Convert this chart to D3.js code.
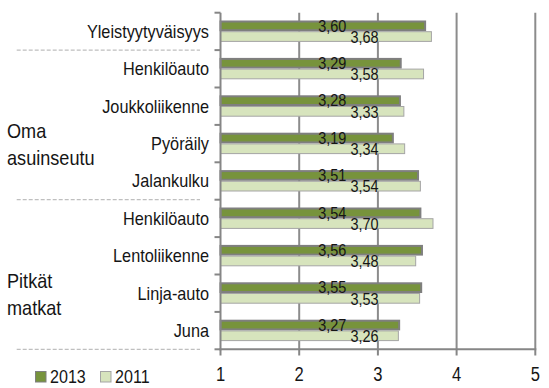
<!DOCTYPE html>
<html>
<head>
<meta charset="utf-8">
<script src="https://cdn.jsdelivr.net/npm/d3@7"></script>
<style>
  body { margin: 0; background: #fff; }
  text { font-family: "Liberation Sans", Arial, sans-serif; fill: #151515; }
</style>
</head>
<body>
<div id="chart"></div>
<script>
const width = 549
const height = 388

const categories = ["Yleistyytyväisyys", "Henkilöauto", "Joukkoliikenne", "Pyöräily", "Jalankulku",
                    "Henkilöauto", "Lentoliikenne", "Linja-auto", "Juna"]
const values2013 = [3.60, 3.29, 3.28, 3.19, 3.51, 3.54, 3.56, 3.55, 3.27]
const values2011 = [3.68, 3.58, 3.33, 3.34, 3.54, 3.70, 3.48, 3.53, 3.26]
const seriesNames = ["2013", "2011"]
const xTicks = [1, 2, 3, 4, 5]
const groupLabels = [["Oma", "asuinseutu"], ["Pitkät", "matkat"]]
const groupRows = [[1, 4], [5, 8]]
const separatorsAfter = [0, 4, 8]

const colors = {"2013": "#77933c", "2011": "#d7e4bd"}
const strokes = {"2013": "#7f7f7f", "2011": "#a5a5a5"}

const svg = d3.select("#chart").append("svg").attr("width", width).attr("height", height)

const x = d3.scaleLinear().domain([1, 5]).range([220.5, 535.3])
const y = d3.scaleBand().domain(d3.range(categories.length)).range([12.7, 349.3])
const ySub = d3.scaleBand().domain(seriesNames).range([7.8, 29.2])

// helper: text squeezed horizontally like the original
function sText(g, tx, ty, str, size, sx, anchor) {
    return g.append("text")
        .attr("transform", `translate(${tx},${ty}) scale(${sx},1)`)
        .attr("font-size", size)
        .attr("text-anchor", anchor || "start")
        .text(str)
}

// gridlines
svg.append("g").selectAll("line").data(xTicks.slice(1)).join("line")
    .attr("x1", d => x(d)).attr("x2", d => x(d))
    .attr("y1", 12.7).attr("y2", 349.3)
    .attr("stroke", "#8c8c8c").attr("stroke-width", 2)

// bars
const rows = svg.append("g").selectAll("g").data(categories).join("g")
    .attr("transform", (d, i) => `translate(0,${y(i)})`)

seriesNames.forEach(s => {
    const vals = s === "2013" ? values2013 : values2011
    rows.append("rect")
        .attr("x", x(1))
        .attr("y", ySub(s) + (s === "2013" ? 1 : 0.5))
        .attr("width", (d, i) => x(vals[i]) - x(1))
        .attr("height", ySub.bandwidth() - (s === "2013" ? 2 : 1))
        .attr("fill", colors[s])
        .attr("stroke", strokes[s])
        .attr("stroke-width", s === "2013" ? 2 : 1)
})

// value labels
rows.each(function(d, i) {
    const g = d3.select(this)
    sText(g, x(2.42), ySub("2013") + ySub.bandwidth() / 2 + 5.8,
        values2013[i].toFixed(2).replace(".", ","), 17, 0.85, "middle")
    sText(g, x(2.83), ySub("2011") + ySub.bandwidth() / 2 + 6.2,
        values2011[i].toFixed(2).replace(".", ","), 17, 0.85, "middle")
})

// axes
svg.append("line").attr("x1", x(1)).attr("x2", x(1)).attr("y1", 12.7).attr("y2", 350.3)
    .attr("stroke", "#868686").attr("stroke-width", 2)
svg.append("line").attr("x1", x(1) - 1).attr("x2", x(5) + 1).attr("y1", 349.3).attr("y2", 349.3)
    .attr("stroke", "#868686").attr("stroke-width", 2)

svg.append("g").selectAll("line").data(d3.range(categories.length + 1)).join("line")
    .attr("x1", x(1) - 6).attr("x2", x(1))
    .attr("y1", i => 12.7 + i * y.step()).attr("y2", i => 12.7 + i * y.step())
    .attr("stroke", "#868686").attr("stroke-width", 2)

svg.append("g").selectAll("line").data(xTicks).join("line")
    .attr("x1", d => x(d)).attr("x2", d => x(d))
    .attr("y1", 349.3).attr("y2", 355.5)
    .attr("stroke", "#868686").attr("stroke-width", 2)

const tickG = svg.append("g")
xTicks.forEach(t => sText(tickG, x(t), 381, t, 19.5, 0.85, "middle"))

// category labels
const catG = svg.append("g")
categories.forEach((c, i) => sText(catG, 209, y(i) + y.bandwidth() / 2 + 6.3, c, 18.3, 0.89, "end"))

// separators
svg.append("g").selectAll("line").data(separatorsAfter).join("line")
    .attr("x1", 16.7).attr("x2", 200)
    .attr("y1", i => y(i) + y.step()).attr("y2", i => y(i) + y.step())
    .attr("stroke", "#bfbfbf").attr("stroke-width", 1.2).attr("stroke-dasharray", "4,2")

// group labels
const grpG = svg.append("g")
groupLabels.forEach((lines, k) => {
    const [a, b] = groupRows[k]
    const mid = (y(a) + y(b) + y.step()) / 2
    lines.forEach((l, j) => sText(grpG, 7, mid + 13.5 + j * 27, l, 19.5, 0.93, "start"))
})

// legend
const leg = svg.append("g")
seriesNames.forEach((s, i) => {
    const lx = 35 + i * 65
    leg.append("rect").attr("x", lx + 0.5).attr("y", 371.5).attr("width", 10.5).attr("height", 10.5)
        .attr("fill", colors[s]).attr("stroke", strokes[s]).attr("stroke-width", 1)
    sText(leg, lx + 15, 382.7, s, 17.5, 0.92, "start")
})
</script>
</body>
</html>
